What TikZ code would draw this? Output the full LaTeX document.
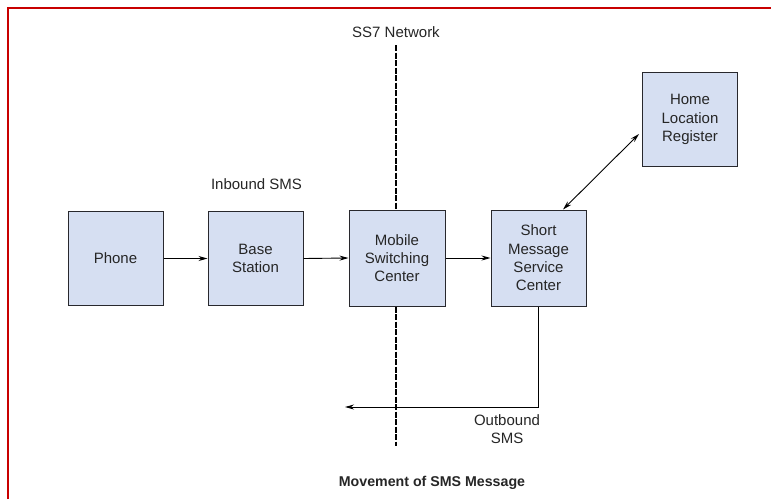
\documentclass[tikz,border=0pt]{standalone}
\usepackage{fontspec}
\setmainfont{Liberation Sans}
\usetikzlibrary{arrows.meta}
\definecolor{boxfill}{RGB}{214,223,242}
\definecolor{boxline}{RGB}{40,40,45}
\definecolor{frame}{RGB}{200,0,0}
\begin{document}
\begin{tikzpicture}[x=1pt,y=-1pt,
  blk/.style={draw=boxline, line width=1pt, fill=boxfill, minimum width=95pt, minimum height=94pt,
    align=center, inner sep=0pt, font=\fontsize{15}{18.3}\selectfont, text=black!85},
  lbl/.style={align=center, inner sep=0pt, font=\fontsize{15}{18.3}\selectfont, text=black!85},
  conn/.style={line width=0.9pt, -{Stealth[length=9pt,width=5pt]}},
  dconn/.style={line width=0.9pt, {Stealth[length=9pt,width=5pt]}-{Stealth[length=9pt,width=5pt]}},
  netline/.style={line width=1.6pt, dash pattern=on 6pt off 1.5pt}]
\useasboundingbox (0,0) rectangle (771,499);
\fill[white] (0,0) rectangle (771,499);
\draw[frame, line width=2.4pt] (8,499) -- (8,8) -- (771,8);

\node[blk] (phone) at (115.5,258.5) {Phone};
\node[blk] (base) at (255.5,258.5) {Base\\Station};
\node[blk, minimum height=96pt, minimum width=96pt] (msc) at (397,258) {Mobile\\Switching\\Center};
\node[blk, minimum height=96pt] (smsc) at (538.5,258) {Short\\Message\\Service\\Center};
\node[blk] (hlr) at (690,119.5) {Home\\Location\\Register};

\node[lbl] (ss7) at (396,32) {SS7 Network};
\node[lbl] (inb) at (256.5,184) {Inbound SMS};
\node[lbl] (outb) at (507,429) {Outbound\\SMS};
\node[lbl, font=\bfseries\fontsize{14.2}{17}\selectfont] (title) at (432,483) {Movement of SMS Message};

\coordinate (ntop) at (396,45);
\coordinate (nbot) at (396,446);
\draw[netline] (ntop) -- (msc.north -| ntop);
\draw[netline] (msc.south -| ntop) -- (nbot);

\draw[conn] (phone.east) -- (base.west);
\draw[conn] (base.east) -- (msc.west);
\draw[conn] (msc.east) -- (smsc.west);
\draw[dconn] ([xshift=24.5pt]smsc.north) -- ([yshift=-14.5pt,xshift=-3pt]hlr.west);
\coordinate (outend) at (345,407);
\draw[conn] (smsc.south) |- (outend);
\end{tikzpicture}
\end{document}
